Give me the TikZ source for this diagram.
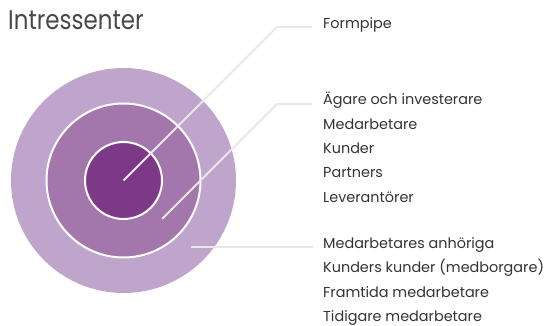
\documentclass[tikz,border=0pt]{standalone}
\usepackage{fontspec}
\setmainfont{Poppins}
\usepackage{graphicx}
\definecolor{ringout}{HTML}{BFA5CB}
\definecolor{ringmid}{HTML}{A377AC}
\definecolor{ringin}{HTML}{7D3888}
\definecolor{leader}{HTML}{E8E8E8}
\definecolor{labeltext}{HTML}{333333}
\definecolor{titletext}{HTML}{484848}
\tikzset{
  ring/.style={circle, inner sep=0pt, outer sep=0pt, draw=white, line width=2pt},
  leaderline/.style={draw=leader, line width=2pt},
  lbl/.style={anchor=base west, inner sep=0pt, text=labeltext, font=\fontsize{14.4}{16}\selectfont},
  titlestyle/.style={anchor=base west, inner sep=0pt, text=titletext, font=\fontsize{27}{30}\selectfont}
}
\begin{document}
\begin{tikzpicture}[x=1pt,y=-1pt]
\useasboundingbox[fill=white] (0,0) rectangle (546,326);
\node[titlestyle] (title) at (8,30) {\scalebox{0.85}[1]{Intressenter}};
\node[ring, fill=ringout, draw=none, minimum size=225pt] (outer) at (123.5,180.5) {};
\node[ring, fill=ringmid, minimum size=154pt] (middle) at (123.5,180.5) {};
\node[ring, fill=ringin, minimum size=77pt] (inner) at (123.5,180.5) {};
\coordinate (p1) at (123.5,180.5);
\coordinate (k1) at (277,27);
\coordinate (e1) at (312,27);
\coordinate (p2) at (162,219);
\coordinate (k2) at (277,104);
\coordinate (e2) at (312,104);
\coordinate (p3) at (191,247);
\coordinate (e3) at (313,247);
\draw[leaderline] (p1) -- (k1) -- (e1);
\draw[leaderline] (p2) -- (k2) -- (e2);
\draw[leaderline] (p3) -- (e3);
\node[lbl] (l1) at (323,29) {Formpipe};
\node[lbl] (l2a) at (323,105) {Ägare och investerare};
\node[lbl] (l2b) at (323,129.3) {Medarbetare};
\node[lbl] (l2c) at (323,153.6) {Kunder};
\node[lbl] (l2d) at (323,177.9) {Partners};
\node[lbl] (l2e) at (323,202.2) {Leverantörer};
\node[lbl] (l3a) at (323,248.5) {Medarbetares anhöriga};
\node[lbl] (l3b) at (323,272.8) {Kunders kunder (medborgare)};
\node[lbl] (l3c) at (323,297.1) {Framtida medarbetare};
\node[lbl] (l3d) at (323,321.4) {Tidigare medarbetare};
\end{tikzpicture}
\end{document}
